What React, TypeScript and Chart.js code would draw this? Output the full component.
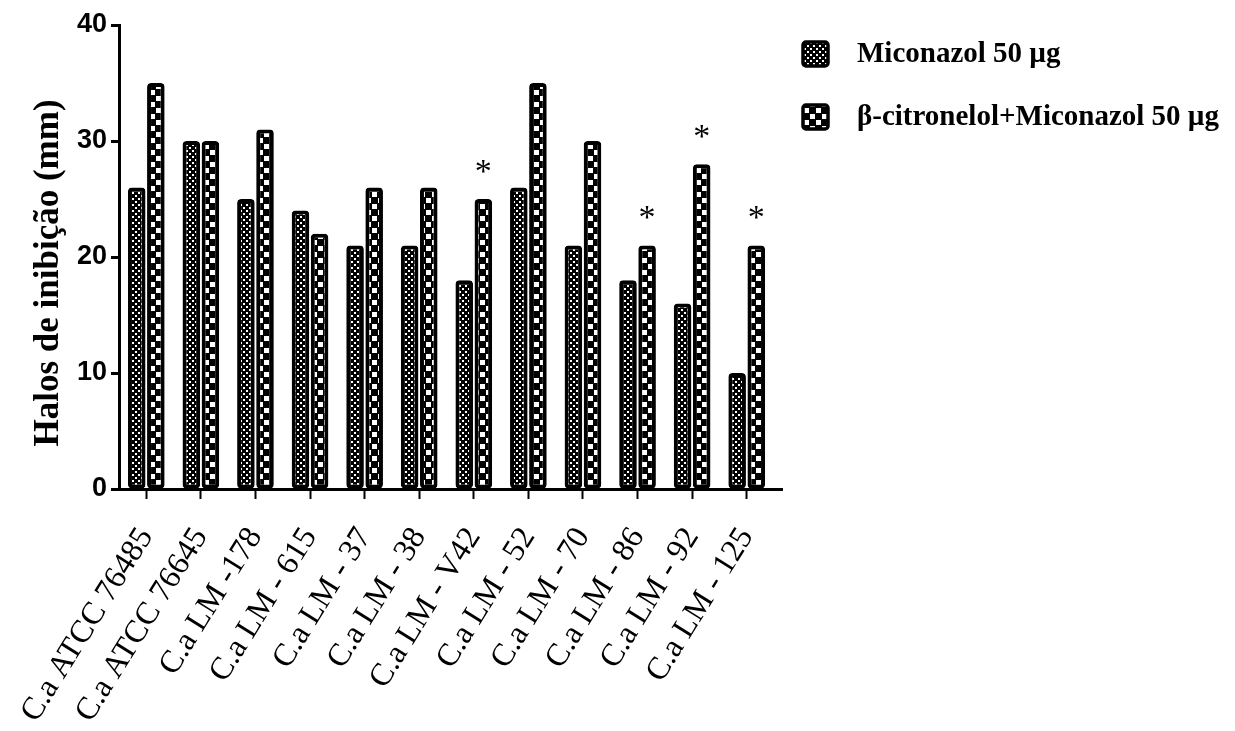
import React, { useEffect, useRef } from 'react';
import { Chart, registerables } from 'chart.js';

Chart.register(...registerables);

const categories = [
  'C.a ATCC 76485',
  'C.a ATCC 76645',
  'C.a LM -178',
  'C.a LM - 615',
  'C.a LM - 37',
  'C.a LM - 38',
  'C.a LM - V42',
  'C.a LM - 52',
  'C.a LM - 70',
  'C.a LM - 86',
  'C.a LM - 92',
  'C.a LM - 125',
];
const miconazol = [26, 30, 25, 24, 21, 21, 18, 26, 21, 18, 16, 10];
const combination = [35, 30, 31, 22, 26, 26, 25, 35, 30, 21, 28, 21];
const significance = ['', '', '', '', '', '', '*', '', '', '*', '*', '*'];
const seriesLabels = ['Miconazol 50 µg', 'β-citronelol+Miconazol 50 µg'];
const yTitle = 'Halos de inibição (mm)';
const yMin = 0;
const yMax = 40;
const yStep = 10;

function makePattern(tile: number, cell: number, dot: number, off: number): CanvasPattern | string {
  const c = document.createElement('canvas');
  c.width = tile;
  c.height = tile;
  const g = c.getContext('2d');
  if (!g) return '#000';
  g.fillStyle = '#000';
  g.fillRect(0, 0, tile, tile);
  g.fillStyle = '#fff';
  g.fillRect(off, off, dot, dot);
  g.fillRect(cell + off, cell + off, dot, dot);
  const ctx = document.createElement('canvas').getContext('2d');
  return (ctx && ctx.createPattern(c, 'repeat')) || '#000';
}

const serif = "'Liberation Serif', 'Times New Roman', serif";
const narrow = "'Liberation Sans Narrow', 'Arial Narrow', 'Liberation Sans', sans-serif";

export default function App() {
  const ref = useRef<HTMLCanvasElement | null>(null);

  useEffect(() => {
    if (!ref.current) return;
    const fine = makePattern(6, 3, 2, 0);
    const coarse = makePattern(12, 6, 5, 0);

    const overlay = {
      id: 'overlay',
      afterDatasetsDraw(chart: any) {
        const ctx = chart.ctx;
        const meta = chart.getDatasetMeta(1);
        ctx.save();
        ctx.fillStyle = '#000';
        ctx.font = `34px ${serif}`;
        ctx.textAlign = 'center';
        ctx.textBaseline = 'alphabetic';
        meta.data.forEach((bar: any, i: number) => {
          if (significance[i]) {
            ctx.fillText(significance[i], bar.x, bar.y - 17);
          }
        });
        ctx.restore();
      },
      afterDraw(chart: any) {
        const ctx = chart.ctx;
        const area = chart.chartArea;
        const left = area.right + 29;
        ctx.save();
        // x axis line runs slightly beyond the last category
        const axisY = Math.round(area.bottom - 1.5) + 1.5;
        ctx.strokeStyle = '#000';
        ctx.lineWidth = 3;
        ctx.beginPath();
        ctx.moveTo(area.right - 4, axisY);
        ctx.lineTo(area.right + 9, axisY);
        ctx.stroke();
        // y axis title
        ctx.save();
        ctx.translate(area.left - 70, (area.top + area.bottom) / 2 + 16);
        ctx.rotate(-Math.PI / 2);
        ctx.fillStyle = '#000';
        ctx.font = `bold 35px ${serif}`;
        ctx.textAlign = 'center';
        ctx.textBaseline = 'middle';
        ctx.fillText(yTitle, 0, 0);
        ctx.restore();
        // legend
        chart.data.datasets.forEach((ds: any, i: number) => {
          const cy = area.top + 29 + i * 63;
          ctx.fillStyle = ds.backgroundColor;
          ctx.beginPath();
          (ctx as any).roundRect(left, cy - 12, 25, 24, 3);
          ctx.fill();
          ctx.lineWidth = 3.5;
          ctx.strokeStyle = '#000';
          ctx.stroke();
          ctx.fillStyle = '#000';
          ctx.font = `bold 29px ${serif}`;
          ctx.textAlign = 'left';
          ctx.textBaseline = 'middle';
          ctx.fillText(ds.label, left + 54, cy + 1);
        });
        ctx.restore();
      },
    };

    const chart = new Chart(ref.current, {
      type: 'bar',
      data: {
        labels: categories,
        datasets: [
          {
            label: seriesLabels[0],
            data: miconazol,
            backgroundColor: fine as any,
            borderColor: '#000',
            borderWidth: 4,
            borderRadius: 4,
            borderSkipped: false,
            barPercentage: 0.92,
            categoryPercentage: 0.7,
          },
          {
            label: seriesLabels[1],
            data: combination,
            backgroundColor: coarse as any,
            borderColor: '#000',
            borderWidth: 4,
            borderRadius: 4,
            borderSkipped: false,
            barPercentage: 0.92,
            categoryPercentage: 0.7,
          },
        ],
      },
      options: {
        responsive: false,
        animation: false,
        layout: { padding: { top: 25, right: 461, left: 0, bottom: 0 } },
        plugins: {
          legend: { display: false },
          tooltip: { enabled: false },
        },
        scales: {
          x: {
            offset: true,
            grid: {
              offset: false,
              drawOnChartArea: false,
              drawTicks: true,
              tickLength: 10,
              tickWidth: 2,
              tickColor: '#000',
            },
            border: { display: true, color: '#000', width: 3 },
            ticks: {
              autoSkip: false,
              minRotation: 58,
              maxRotation: 58,
              padding: 22,
              color: '#000',
              font: { family: serif, size: 32 },
            },
            afterFit: (scale: any) => {
              scale.height = 242;
            },
          },
          y: {
            min: yMin,
            max: yMax,
            ticks: {
              stepSize: yStep,
              color: '#000',
              padding: 4,
              font: { family: narrow, size: 27, weight: 'bold' },
            },
            grid: {
              drawOnChartArea: false,
              drawTicks: true,
              tickLength: 8,
              tickWidth: 3,
              tickColor: '#000',
            },
            border: { display: true, color: '#000', width: 3 },
            title: { display: false, text: yTitle },
            afterFit: (scale: any) => {
              scale.width = 119;
            },
          },
        },
      },
      plugins: [overlay],
    });
    return () => chart.destroy();
  }, []);

  return (
    <div style={{ position: 'absolute', left: 0, top: 0, width: 1235, height: 731, background: '#fff' }}>
      <canvas ref={ref} width={1235} height={731} />
    </div>
  );
}
